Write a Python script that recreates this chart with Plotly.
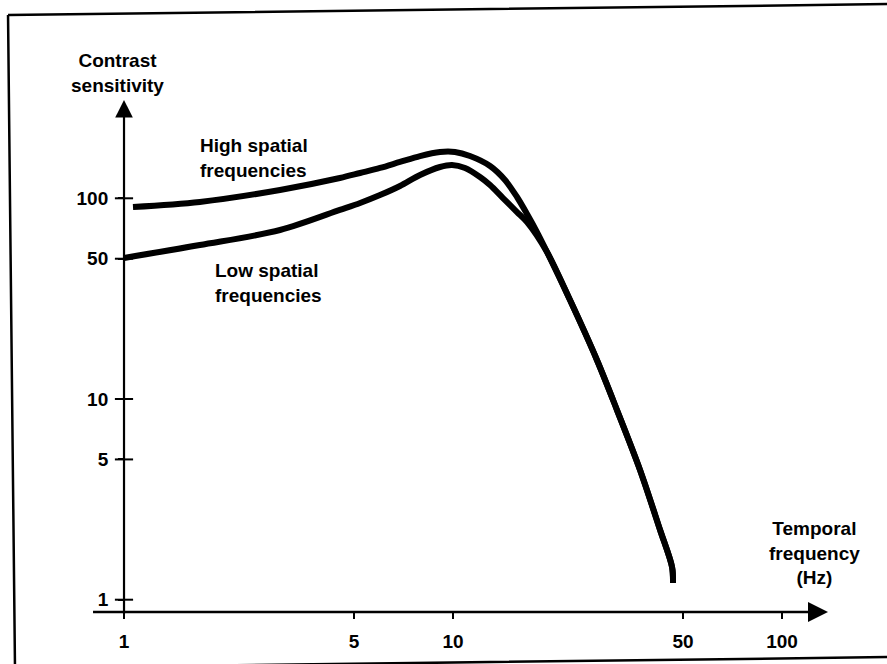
import plotly.graph_objects as go

# ---- data (temporal frequency in Hz, contrast sensitivity) ----
freq_high = [1.065, 1.70, 2.98, 4.53, 5.22, 6.00, 6.90, 7.94, 9.13, 10.14, 11.26, 12.96, 14.39, 15.65, 16.79, 18.0]
sens_high = [90.5, 95.9, 110.0, 126.2, 133.7, 141.6, 151.7, 162.4, 170.1, 170.1, 162.4, 144.9, 123.4, 101.5, 83.5, 67.9]

freq_low = [1.0, 1.70, 2.98, 4.53, 5.22, 6.00, 6.90, 7.94, 9.13, 9.93, 10.88, 12.08, 12.96, 14.19, 15.65, 16.79]
sens_low = [50.4, 58.5, 69.5, 87.5, 94.8, 103.8, 115.2, 130.7, 143.2, 146.6, 141.6, 127.7, 116.5, 100.3, 85.4, 76.2]

# common high-frequency fall-off shared by both curves
freq_tail = [19.31, 22.68, 27.40, 31.51, 37.02, 42.58, 46.32, 46.64]
sens_tail = [54.0, 31.1, 15.6, 8.81, 4.43, 2.23, 1.455, 1.21]

x_ticks = [1, 5, 10, 50, 100]
x_tick_labels = ["1", "5", "10", "50", "100"]
y_ticks = [1, 5, 10, 50, 100]
y_tick_labels = ["1", "5", "10", "50", "100"]

FONT = dict(family="Liberation Sans, Arial, Helvetica, sans-serif", size=19, color="black", weight="bold")

XR = [-0.0942, 2.1398]   # log10 range of the x axis
YR = [-0.0613, 2.4898]   # log10 range of the y axis
YPOS = 0.0422            # y axis sits at x = 1 Hz
X_ORIGIN = x_ticks[0]
Y_ORIGIN = 10 ** YR[0]

fig = go.Figure()
fig.add_trace(go.Scatter(x=freq_high + freq_tail, y=sens_high + sens_tail, mode="lines",
                         line=dict(color="black", width=6, shape="spline", smoothing=0.9),
                         name="High spatial frequencies", hoverinfo="skip"))
fig.add_trace(go.Scatter(x=freq_low + freq_tail, y=sens_low + sens_tail, mode="lines",
                         line=dict(color="black", width=6, shape="spline", smoothing=0.9),
                         name="Low spatial frequencies", hoverinfo="skip"))
# small cross ticks straddling the axes
fig.add_trace(go.Scatter(x=[X_ORIGIN] * len(y_ticks), y=y_ticks, mode="markers", cliponaxis=False,
                         marker=dict(symbol="line-ew", size=13, line=dict(color="black", width=2)),
                         showlegend=False, hoverinfo="skip"))
fig.add_trace(go.Scatter(x=x_ticks, y=[Y_ORIGIN] * len(x_ticks), mode="markers", cliponaxis=False,
                         marker=dict(symbol="line-ns", size=12, line=dict(color="black", width=2)),
                         showlegend=False, hoverinfo="skip"))

fig.update_layout(
    width=887, height=664,
    margin=dict(l=93, r=59, t=100, b=52),
    paper_bgcolor="white", plot_bgcolor="white",
    showlegend=False,
    font=FONT,
    xaxis=dict(type="log", range=XR, showgrid=False, zeroline=False, showline=False,
               tickmode="array", tickvals=x_ticks, ticktext=x_tick_labels,
               ticks="outside", ticklen=6, tickwidth=2, tickcolor="black",
               tickfont=FONT, ticklabelstandoff=6),
    yaxis=dict(type="log", range=YR, showgrid=False, zeroline=False, showline=False,
               anchor="free", position=YPOS,
               tickmode="array", tickvals=y_ticks, ticktext=y_tick_labels,
               ticks="outside", ticklen=6, tickwidth=2, tickcolor="black",
               tickfont=FONT, ticklabelstandoff=6),
)

# axis lines with arrow heads
fig.add_annotation(x=1, y=0, xref="x domain", yref="y domain",
                   ax=-0.002, ay=0, axref="x domain", ayref="y domain",
                   showarrow=True, arrowhead=2, arrowsize=1.6, arrowwidth=2.5, arrowcolor="black", text="")
fig.add_annotation(x=YPOS, y=1, xref="x domain", yref="y domain",
                   ax=YPOS, ay=-0.006, axref="x domain", ayref="y domain",
                   showarrow=True, arrowhead=2, arrowsize=1.6, arrowwidth=2.2, arrowcolor="black", text="")

# texts
fig.add_annotation(x=0.0327, y=1.0527, xref="paper", yref="paper", text="Contrast<br>sensitivity",
                   showarrow=False, xanchor="center", yanchor="middle", align="center", font=FONT)
fig.add_annotation(x=0.1429, y=0.8867, xref="paper", yref="paper", text="High spatial<br>frequencies",
                   showarrow=False, xanchor="left", yanchor="middle", align="left", font=FONT)
fig.add_annotation(x=0.1633, y=0.6426, xref="paper", yref="paper", text="Low spatial<br>frequencies",
                   showarrow=False, xanchor="left", yanchor="middle", align="left", font=FONT)
fig.add_annotation(x=0.9823, y=0.1152, xref="paper", yref="paper", text="Temporal<br>frequency<br>(Hz)",
                   showarrow=False, xanchor="center", yanchor="middle", align="center", font=FONT)

# scanned frame around the figure
fig.add_shape(type="path", xref="paper", yref="paper",
              path="M -0.1156 1.166 L 1.0912 1.1875 M -0.1156 1.166 L -0.1061 -0.1133 "
                   "M -0.1061 -0.1094 L 1.0912 -0.0879",
              line=dict(color="black", width=2.5))

fig.write_html("out.html")
